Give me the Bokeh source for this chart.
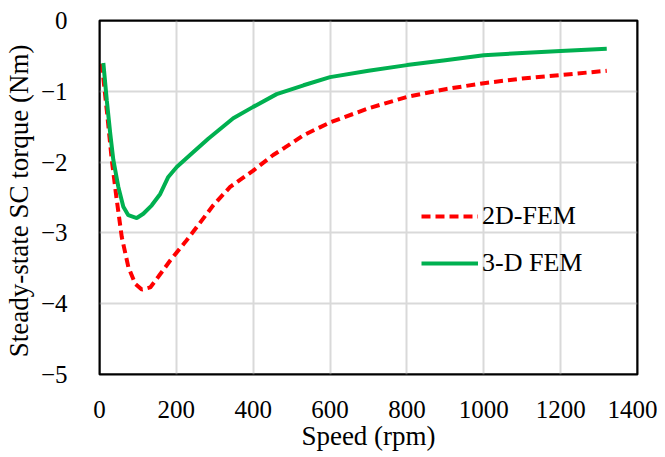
from bokeh.plotting import figure
from bokeh.models import Range1d, FixedTicker, Legend, LegendItem, Span
from bokeh.embed import file_html
from bokeh.resources import INLINE

# ---- data ----
speed_2d = [6, 19, 32, 45, 58, 75, 93, 110, 132, 153, 184, 223, 257, 296, 340, 400, 452, 481, 531, 600, 700, 800, 900, 1000, 1100, 1200, 1320]
torque_2d = [-0.61, -1.27, -1.97, -2.54, -3.06, -3.48, -3.72, -3.80, -3.77, -3.62, -3.39, -3.13, -2.89, -2.61, -2.35, -2.12, -1.90, -1.80, -1.62, -1.44, -1.24, -1.08, -0.97, -0.885, -0.82, -0.77, -0.71]

speed_3d = [10, 19, 28, 36, 49, 62, 75, 97, 114, 136, 158, 179, 201, 240, 283, 348, 400, 461, 531, 600, 700, 800, 900, 1000, 1100, 1200, 1320]
torque_3d = [-0.60, -1.13, -1.60, -1.97, -2.35, -2.63, -2.75, -2.79, -2.73, -2.61, -2.45, -2.21, -2.07, -1.88, -1.67, -1.38, -1.22, -1.04, -0.915, -0.80, -0.71, -0.63, -0.56, -0.49, -0.46, -0.43, -0.40]

x_ticks = [0, 200, 400, 600, 800, 1000, 1200, 1400]
y_ticks = [-5, -4, -3, -2, -1, 0]
x_grid = [200, 400, 600, 800, 1000, 1200]
y_grid = [-4, -3, -2, -1]
x_limits = (0, 1400)
y_limits = (-5, 0)

series_labels = ["2D-FEM", "3-D FEM"]

FONT = "Liberation Serif"

p = figure(
    frame_width=538, frame_height=354,
    min_border_left=88, min_border_right=20, min_border_top=20, min_border_bottom=75,
    x_range=Range1d(*x_limits), y_range=Range1d(*y_limits),
    output_backend="svg", toolbar_location=None,
)
p.background_fill_color = "white"
p.border_fill_color = "white"
p.outline_line_color = "black"
p.outline_line_width = 2

for ax in (p.xaxis[0], p.yaxis[0]):
    ax.axis_line_color = None
    ax.major_tick_line_color = None
    ax.minor_tick_line_color = None
    ax.major_label_text_font = FONT
    ax.major_label_text_font_size = "25px"
    ax.major_label_text_color = "black"
    ax.axis_label_text_font = FONT
    ax.axis_label_text_font_size = "27px"
    ax.axis_label_text_font_style = "normal"
    ax.axis_label_text_color = "black"

p.xaxis[0].ticker = FixedTicker(ticks=x_ticks)
p.yaxis[0].ticker = FixedTicker(ticks=y_ticks)
p.xaxis[0].axis_label = "Speed (rpm)"
p.yaxis[0].axis_label = "Steady-state  SC torque (Nm)"
p.xaxis[0].major_label_standoff = 20
p.xaxis[0].axis_label_standoff = 0
p.yaxis[0].major_label_standoff = 26
p.yaxis[0].axis_label_standoff = 4

p.xgrid.ticker = FixedTicker(ticks=x_grid)
p.ygrid.ticker = FixedTicker(ticks=y_grid)
p.grid.grid_line_color = "#d9d9d9"
p.grid.grid_line_width = 2

r2 = p.line(speed_2d, torque_2d, line_color="#ff0000", line_width=4, line_dash="9 5")
r3 = p.line(speed_3d, torque_3d, line_color="#00b050", line_width=4)

# plot-area frame drawn at the range limits
for loc in x_limits:
    p.add_layout(Span(location=loc, dimension="height", line_color="black", line_width=2))
for loc in y_limits:
    p.add_layout(Span(location=loc, dimension="width", line_color="black", line_width=2))

legend = Legend(
    items=[LegendItem(label=series_labels[0], renderers=[r2]),
           LegendItem(label=series_labels[1], renderers=[r3])],
    location=(322, 96),
    background_fill_alpha=0, border_line_color=None,
    padding=0, margin=0, spacing=17,
    glyph_width=57, glyph_height=30, label_height=30, label_standoff=4,
    label_text_font=FONT, label_text_font_size="26px", label_text_color="black",
)
p.add_layout(legend, "center")

open("out.html", "w").write(file_html(p, INLINE))
